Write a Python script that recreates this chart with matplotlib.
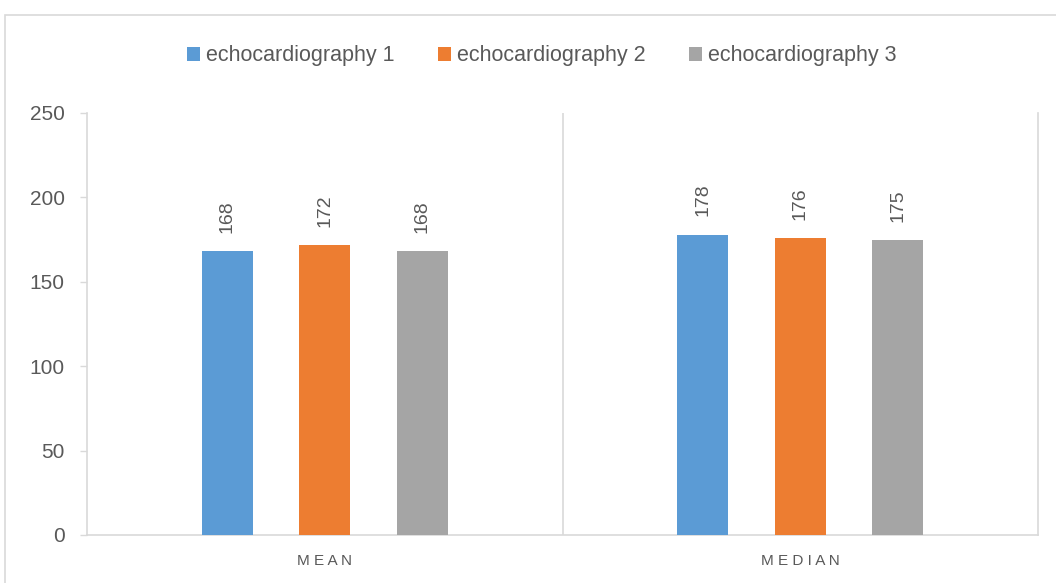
import matplotlib.pyplot as plt
from matplotlib.patches import Rectangle
import numpy as np

plt.rcParams['font.family'] = ['Liberation Sans', 'DejaVu Sans']

categories = ["MEAN", "MEDIAN"]
series_names = ["echocardiography 1", "echocardiography 2", "echocardiography 3"]
echo1 = [168, 178]
echo2 = [172, 176]
echo3 = [168, 175]
colors = ["#5b9bd5", "#ed7d31", "#a5a5a5"]

text_col = "#595959"
line_col = "#d9d9d9"

fig = plt.figure(figsize=(10.56, 5.83), dpi=100)
ax = fig.add_axes([87 / 1056, 48 / 583, (1038 - 87) / 1056, (535 - 113) / 583])

# outer chart frame
fig.add_artist(Rectangle((5 / 1056, -0.01), 1.0, (583 - 15) / 583 + 0.01,
                         transform=fig.transFigure, fill=False,
                         edgecolor=line_col, linewidth=1.2))

x = np.arange(len(categories))
slot = 0.205
width = 0.107
for i, (vals, name) in enumerate(zip([echo1, echo2, echo3], series_names)):
    bars = ax.bar(x + (i - 1) * slot, vals, width, color=colors[i], label=name, zorder=3)
    ax.bar_label(bars, labels=[str(v) for v in vals], rotation=90, padding=13,
                 color=text_col, fontsize=14)

ax.set_xlim(-0.5, 1.5)
ax.set_ylim(0, 250)
ax.set_yticks(range(0, 251, 50))
ax.tick_params(axis='y', colors=line_col, labelcolor=text_col, labelsize=15,
               length=5, width=1, pad=11)
ax.set_xticks(x)
ax.set_xticklabels([" ".join(c) for c in categories], fontsize=11, color=text_col)
ax.tick_params(axis='x', length=0, pad=14)

for s in ["top", "right"]:
    ax.spines[s].set_visible(False)
ax.spines["left"].set_color(line_col)
ax.spines["bottom"].set_color(line_col)
ax.spines["left"].set_linewidth(1.2)
ax.spines["bottom"].set_linewidth(1.2)
ax.axvline(0.5, color=line_col, linewidth=1.2, zorder=1)
ax.axvline(1.5, color=line_col, linewidth=1.2, zorder=1, clip_on=False)

fig.legend(loc="center", bbox_to_anchor=(542 / 1056, 1 - 56 / 583), ncol=3,
           frameon=False, fontsize=15.5, labelcolor=text_col,
           handlelength=0.6, handleheight=0.6, handletextpad=0.3, columnspacing=2.0)

fig.savefig("out.png", dpi=100)
